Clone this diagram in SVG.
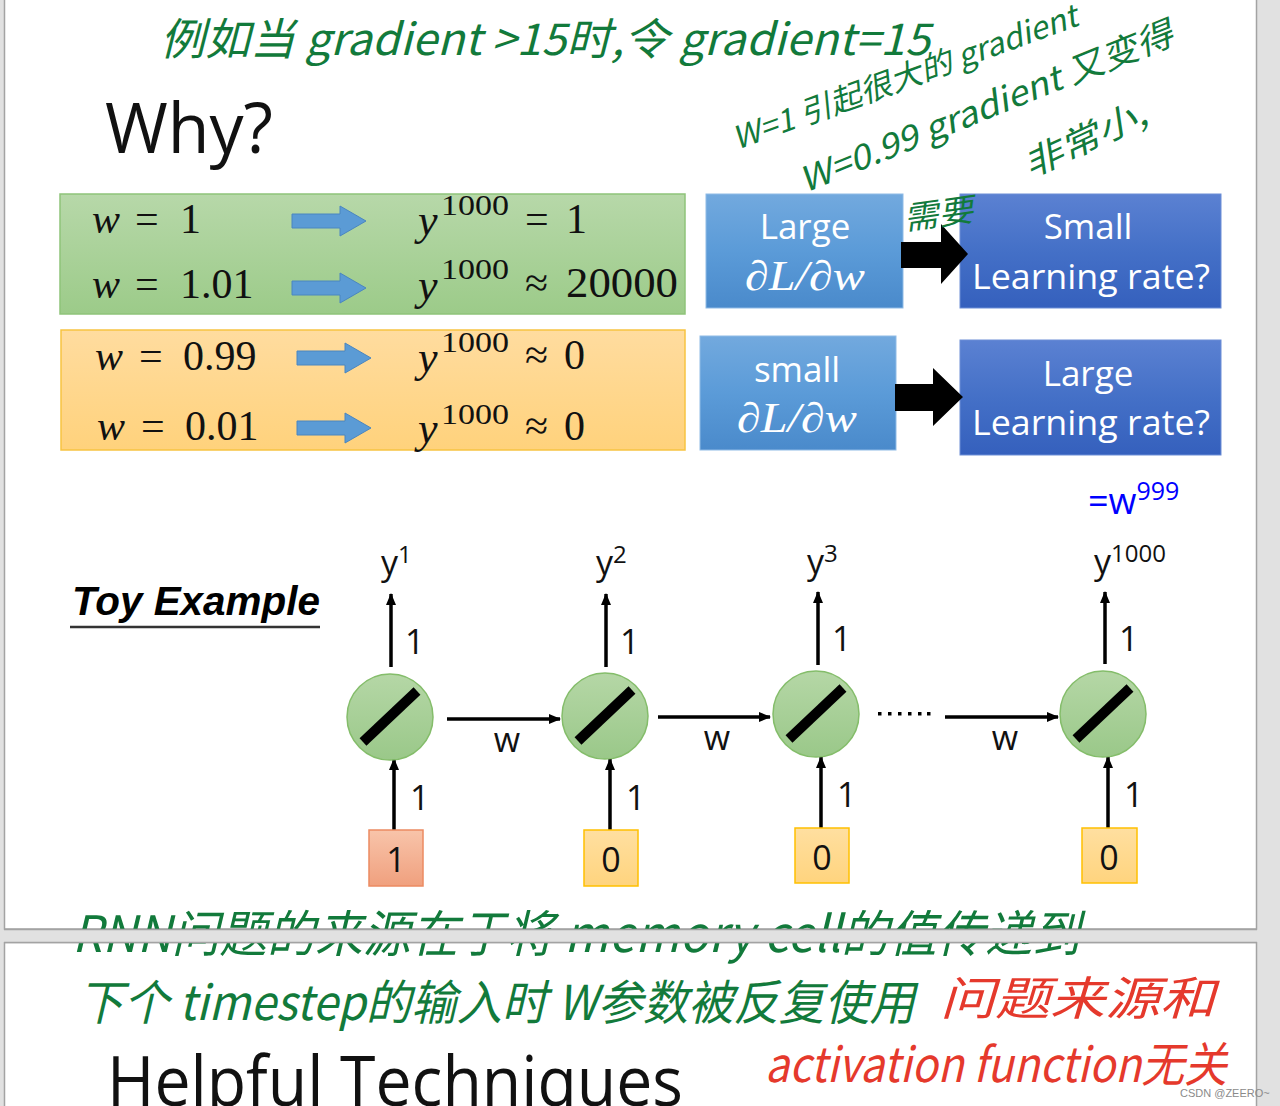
<svg xmlns="http://www.w3.org/2000/svg" xmlns:xlink="http://www.w3.org/1999/xlink" width="1280" height="1106" viewBox="0 0 1280 1106">
<style>
.sans{font-family:"Open Sans","Liberation Sans",sans-serif;}
.math{font-family:"Liberation Serif","DejaVu Serif",serif;fill:#111;}
.it{font-style:italic;}
.hand{font-family:"Noto Sans CJK SC","Noto Sans",sans-serif;font-style:italic;fill:#127a3b;}
.red{fill:#e5392c;}
.wt{fill:#fff;}
.lbl{font-family:"Open Sans","Liberation Sans",sans-serif;font-size:34px;fill:#111;}
.conn{stroke:#000;stroke-width:3.5;fill:none;marker-end:url(#ah);}
.node{fill:url(#gNode);stroke:#84bd6a;stroke-width:1.5;}
.slash{stroke:#000;stroke-width:10;}
.blk{fill:#5b9bd5;stroke:#4a86c0;stroke-width:1;}
.big{fill:#000;}
</style>
<defs>
<linearGradient id="gGreen" x1="0" y1="0" x2="0" y2="1"><stop offset="0" stop-color="#b7d8a9"/><stop offset="1" stop-color="#9ccb89"/></linearGradient>
<linearGradient id="gOrange" x1="0" y1="0" x2="0" y2="1"><stop offset="0" stop-color="#ffdc9f"/><stop offset="1" stop-color="#ffd27c"/></linearGradient>
<linearGradient id="gBlueL" x1="0" y1="0" x2="0" y2="1"><stop offset="0" stop-color="#72a9de"/><stop offset="0.5" stop-color="#5b9bd8"/><stop offset="1" stop-color="#4a8acb"/></linearGradient>
<linearGradient id="gBlueD" x1="0" y1="0" x2="0" y2="1"><stop offset="0" stop-color="#5b81d2"/><stop offset="0.5" stop-color="#4470c7"/><stop offset="1" stop-color="#3560bd"/></linearGradient>
<linearGradient id="gNode" x1="0" y1="0" x2="0" y2="1"><stop offset="0" stop-color="#b5d7a6"/><stop offset="1" stop-color="#9ac889"/></linearGradient>
<linearGradient id="gSalmon" x1="0" y1="0" x2="0" y2="1"><stop offset="0" stop-color="#f8c4aa"/><stop offset="1" stop-color="#f0a07e"/></linearGradient>
<linearGradient id="gYellow" x1="0" y1="0" x2="0" y2="1"><stop offset="0" stop-color="#ffdfa0"/><stop offset="1" stop-color="#ffd47e"/></linearGradient>
<marker id="ah" viewBox="0 0 12 10" refX="11" refY="5" markerWidth="12" markerHeight="10" markerUnits="userSpaceOnUse" orient="auto"><path d="M0,0 L12,5 L0,10 Z" fill="#000"/></marker>
<path id="blkArrow" d="M0,-7 H48 V-15 L74,0 L48,15 V7 H0 Z"/>
</defs>

<!-- background and slides -->
<rect x="0" y="0" width="1280" height="1106" fill="#e1e1e1"/>
<rect x="4.5" y="-2" width="1252" height="931" fill="#fff" stroke="#a3a3a3" stroke-width="1.5"/>
<rect x="4.5" y="942.5" width="1252" height="170" fill="#fff" stroke="#a3a3a3" stroke-width="1.5"/>

<!-- slide 1 title -->
<text class="sans" x="105" y="153" font-size="70" fill="#111" textLength="168" lengthAdjust="spacingAndGlyphs">Why?</text>

<!-- green box -->
<g id="box-green">
<rect x="60" y="194" width="625" height="120" fill="url(#gGreen)" stroke="#8fc37a" stroke-width="1.5"/>
<text class="math" font-size="42" y="233"><tspan class="it" x="92">w</tspan><tspan x="135">=</tspan><tspan x="180">1</tspan></text>
<use href="#blkArrow" x="292" y="221" class="blk"/>
<text class="math" font-size="44" y="235"><tspan class="it" x="418">y</tspan><tspan x="441" y="215" font-size="30" textLength="68" lengthAdjust="spacingAndGlyphs">1000</tspan><tspan x="525" y="233" font-size="42">=</tspan><tspan x="566" y="233" font-size="42">1</tspan></text>
<text class="math" font-size="42" y="298"><tspan class="it" x="92">w</tspan><tspan x="135">=</tspan><tspan x="180">1.01</tspan></text>
<use href="#blkArrow" x="292" y="288" class="blk"/>
<text class="math" font-size="44" y="300"><tspan class="it" x="418">y</tspan><tspan x="441" y="279" font-size="30" textLength="68" lengthAdjust="spacingAndGlyphs">1000</tspan><tspan x="525" y="297" font-size="42">≈</tspan><tspan x="566" y="297" font-size="42" textLength="112" lengthAdjust="spacingAndGlyphs">20000</tspan></text>
</g>

<!-- orange box -->
<g id="box-orange">
<rect x="61" y="330" width="624" height="120" fill="url(#gOrange)" stroke="#f7c342" stroke-width="1.5"/>
<text class="math" font-size="42" y="370"><tspan class="it" x="95">w</tspan><tspan x="139">=</tspan><tspan x="183">0.99</tspan></text>
<use href="#blkArrow" x="297" y="358" class="blk"/>
<text class="math" font-size="44" y="372"><tspan class="it" x="418">y</tspan><tspan x="441" y="352" font-size="30" textLength="68" lengthAdjust="spacingAndGlyphs">1000</tspan><tspan x="525" y="369" font-size="42">≈</tspan><tspan x="564" y="369" font-size="42">0</tspan></text>
<text class="math" font-size="42" y="440"><tspan class="it" x="97">w</tspan><tspan x="141">=</tspan><tspan x="185">0.01</tspan></text>
<use href="#blkArrow" x="297" y="428" class="blk"/>
<text class="math" font-size="44" y="443"><tspan class="it" x="418">y</tspan><tspan x="441" y="424" font-size="30" textLength="68" lengthAdjust="spacingAndGlyphs">1000</tspan><tspan x="525" y="440" font-size="42">≈</tspan><tspan x="564" y="440" font-size="42">0</tspan></text>
</g>

<!-- blue boxes -->
<g id="box-large-grad">
<rect x="706" y="194" width="197" height="114" fill="url(#gBlueL)" stroke="#8fbbe6" stroke-width="1"/>
<text class="sans wt" x="805" y="239" font-size="35" text-anchor="middle">Large</text>
<text class="math it" x="745" y="290" font-size="42" style="fill:#fff" textLength="120" lengthAdjust="spacingAndGlyphs">∂L/∂w</text>
</g>
<g id="box-small-lr">
<rect x="960" y="194" width="261" height="114" fill="url(#gBlueD)" stroke="#6d8ed6" stroke-width="1"/>
<text class="sans wt" x="1088" y="239" font-size="35" text-anchor="middle">Small</text>
<text class="sans wt" x="1091" y="289" font-size="35" text-anchor="middle" textLength="238" lengthAdjust="spacingAndGlyphs">Learning rate?</text>
</g>
<g id="box-small-grad">
<rect x="700" y="336" width="196" height="114" fill="url(#gBlueL)" stroke="#8fbbe6" stroke-width="1"/>
<text class="sans wt" x="797" y="382" font-size="35" text-anchor="middle">small</text>
<text class="math it" x="737" y="432" font-size="42" style="fill:#fff" textLength="120" lengthAdjust="spacingAndGlyphs">∂L/∂w</text>
</g>
<g id="box-large-lr">
<rect x="960" y="340" width="261" height="115" fill="url(#gBlueD)" stroke="#6d8ed6" stroke-width="1"/>
<text class="sans wt" x="1088" y="386" font-size="35" text-anchor="middle">Large</text>
<text class="sans wt" x="1091" y="435" font-size="35" text-anchor="middle" textLength="238" lengthAdjust="spacingAndGlyphs">Learning rate?</text>
</g>

<!-- =w999 -->
<text class="sans" x="1088" y="514" font-size="36" fill="#0000ff">=w<tspan font-size="25" dy="-14">999</tspan></text>

<!-- Toy example -->
<text x="72" y="615" font-family="Liberation Sans, Arial, sans-serif" font-size="40" font-weight="bold" font-style="italic" fill="#000" textLength="248" lengthAdjust="spacingAndGlyphs">Toy Example</text>
<line x1="70" y1="627" x2="320" y2="627" stroke="#333" stroke-width="2.5"/>

<!-- connectors -->
<g id="connectors">
<path class="big" d="M901,242 H941 V224 L968,254 L941,284 V268 H901 Z"/>
<path class="big" d="M895,384 H933 V368 L963,397 L933,426 V411 H895 Z"/>
<line class="conn" x1="391" y1="667" x2="391" y2="594"/>
<line class="conn" x1="394" y1="830" x2="394" y2="759"/>
<line class="conn" x1="606" y1="667" x2="606" y2="594"/>
<line class="conn" x1="610" y1="830" x2="610" y2="759"/>
<line class="conn" x1="818" y1="665" x2="818" y2="592"/>
<line class="conn" x1="821" y1="828" x2="821" y2="757"/>
<line class="conn" x1="1105" y1="664" x2="1105" y2="592"/>
<line class="conn" x1="1108" y1="828" x2="1108" y2="757"/>
<line class="conn" x1="447" y1="719" x2="560" y2="719"/>
<line class="conn" x1="658" y1="717" x2="770" y2="717"/>
<line class="conn" x1="945" y1="717" x2="1058" y2="717"/>
<g fill="#000">
<rect x="878" y="712" width="3.5" height="3.5"/><rect x="888" y="712" width="3.5" height="3.5"/><rect x="898" y="712" width="3.5" height="3.5"/><rect x="908" y="712" width="3.5" height="3.5"/><rect x="918" y="712" width="3.5" height="3.5"/><rect x="927" y="712" width="3.5" height="3.5"/>
</g>
<text class="lbl" x="405" y="654">1</text>
<text class="lbl" x="410" y="810">1</text>
<text class="lbl" x="620" y="654">1</text>
<text class="lbl" x="626" y="810">1</text>
<text class="lbl" x="832" y="651">1</text>
<text class="lbl" x="837" y="807">1</text>
<text class="lbl" x="1119" y="651">1</text>
<text class="lbl" x="1124" y="807">1</text>
<text class="lbl" x="507" y="752" text-anchor="middle">w</text>
<text class="lbl" x="717" y="750" text-anchor="middle">w</text>
<text class="lbl" x="1005" y="750" text-anchor="middle">w</text>
</g>

<!-- nodes -->
<g id="node-1"><circle class="node" cx="390" cy="717" r="43"/><line class="slash" x1="363" y1="742" x2="417" y2="691"/></g>
<g id="node-2"><circle class="node" cx="605" cy="716" r="43"/><line class="slash" x1="578" y1="741" x2="632" y2="690"/></g>
<g id="node-3"><circle class="node" cx="816" cy="714" r="43"/><line class="slash" x1="789" y1="739" x2="843" y2="688"/></g>
<g id="node-4"><circle class="node" cx="1103" cy="714" r="43"/><line class="slash" x1="1076" y1="739" x2="1130" y2="688"/></g>

<!-- outputs -->
<g id="out-1"><text class="lbl" x="381" y="575">y<tspan font-size="24" dy="-12">1</tspan></text></g>
<g id="out-2"><text class="lbl" x="596" y="575">y<tspan font-size="24" dy="-12">2</tspan></text></g>
<g id="out-3"><text class="lbl" x="807" y="574">y<tspan font-size="24" dy="-12">3</tspan></text></g>
<g id="out-4"><text class="lbl" x="1094" y="574">y<tspan font-size="24" dy="-12">1000</tspan></text></g>

<!-- inputs -->
<g id="in-1"><rect x="369" y="830" width="54" height="56" fill="url(#gSalmon)" stroke="#ec8b62" stroke-width="1.5"/><text class="lbl" x="396" y="872" text-anchor="middle">1</text></g>
<g id="in-2"><rect x="584" y="830" width="54" height="56" fill="url(#gYellow)" stroke="#ffc000" stroke-width="1.5"/><text class="lbl" x="611" y="872" text-anchor="middle">0</text></g>
<g id="in-3"><rect x="795" y="828" width="54" height="55" fill="url(#gYellow)" stroke="#ffc000" stroke-width="1.5"/><text class="lbl" x="822" y="870" text-anchor="middle">0</text></g>
<g id="in-4"><rect x="1082" y="828" width="55" height="55" fill="url(#gYellow)" stroke="#ffc000" stroke-width="1.5"/><text class="lbl" x="1109" y="870" text-anchor="middle">0</text></g>

<!-- slide 2 title -->
<text class="sans" x="107" y="1106" font-size="70" fill="#111" textLength="576" lengthAdjust="spacingAndGlyphs">Helpful Techniques</text>

<!-- handwritten notes -->
<g id="notes">
<text class="hand" x="160" y="55" font-size="44" textLength="770" lengthAdjust="spacingAndGlyphs">例如当 gradient &gt;15时,令 gradient=15</text>
<text class="hand" x="737" y="150" font-size="31" textLength="365" lengthAdjust="spacingAndGlyphs" transform="rotate(-20 737 150)">W=1 引起很大的 gradient</text>
<text class="hand" x="805" y="193" font-size="34" textLength="400" lengthAdjust="spacingAndGlyphs" transform="rotate(-22 805 193)">W=0.99 gradient 又变得</text>
<text class="hand" x="1030" y="178" font-size="34" textLength="132" lengthAdjust="spacingAndGlyphs" transform="rotate(-25 1030 178)">非常小,</text>
<text class="hand" x="905" y="230" font-size="32" textLength="70" lengthAdjust="spacingAndGlyphs" transform="rotate(-8 905 230)">需要</text>
<text class="hand" x="72" y="952" font-size="50" textLength="1008" lengthAdjust="spacingAndGlyphs">RNN问题的来源在于将 memory cell的值传递到</text>
<text class="hand" x="78" y="1020" font-size="48" textLength="837" lengthAdjust="spacingAndGlyphs">下个 timestep的输入时 W参数被反复使用</text>
<text class="hand red" x="940" y="1015" font-size="46" textLength="275" lengthAdjust="spacingAndGlyphs">问题来源和</text>
<text class="hand red" x="765" y="1082" font-size="48" textLength="462" lengthAdjust="spacingAndGlyphs">activation function无关</text>
</g>

<!-- gap between slides -->
<rect x="0" y="930" width="1280" height="12" fill="#e1e1e1"/>
<line x1="4" y1="929.5" x2="1257" y2="929.5" stroke="#a3a3a3" stroke-width="1.5"/>
<line x1="4" y1="942.5" x2="1257" y2="942.5" stroke="#a3a3a3" stroke-width="1.5"/>

<text x="1180" y="1097" font-family="Liberation Sans, Arial, sans-serif" font-size="11" fill="#8a8a8a">CSDN @ZEERO~</text>
</svg>
